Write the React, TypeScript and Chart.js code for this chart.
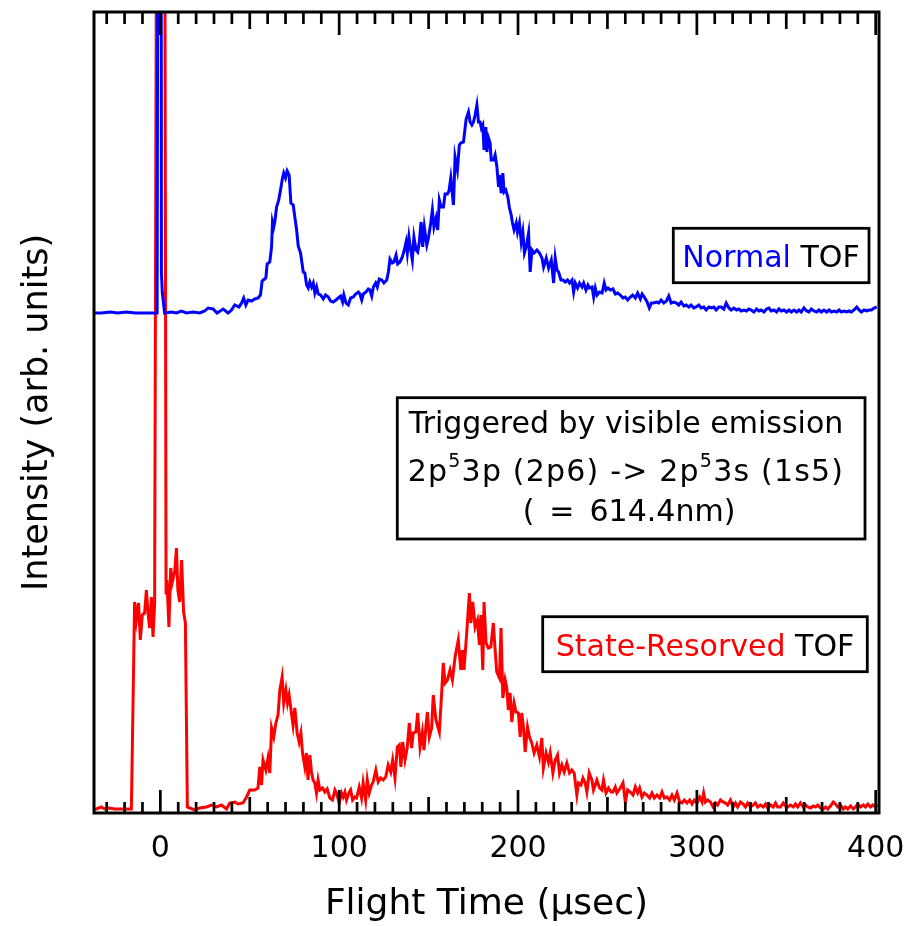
import { useEffect, useRef } from "react";
import { Chart, registerables } from "chart.js";

Chart.register(...registerables);

const FONT = '"DejaVu Sans"';

// Flight time (µs) vs intensity (arb. units)
const normalTOF: [number, number][] = [
  [-37,500],[-33,500],[-28,501],[-24,500],[-19,501],[-14,500],[-9,500],[-5,500],[-1.8,500],[-1.0,1400],[0.3,1400],[0.6,540],[1.1,520],[2.4,500],[6.2,501],[9,500],[11.8,502],[14.6,500],[18.3,501],[22,500],[24.8,502],[26.7,505],[29.5,504],[31.7,500],[35.1,504],[37.9,500],[39.8,503],[41.6,508],[44,506],[45.4,510],[46.6,515],[47.8,508],[49.1,513],[51,512],[52.8,514],[54.7,515],[56,518],[56.9,532],[59,535],[59.7,549],[61.2,551],[62.2,566],[62.7,591],[63.4,586],[64,591],[65,606],[66.2,613],[67.2,623],[68.3,635],[69,640],[70,635],[70.9,642],[72,638],[73,610],[74.3,608],[75.2,596],[76.2,583],[77.1,567],[78.4,560],[79.9,541],[80.8,540],[81.8,528],[82.7,525],[83.6,531],[84.6,526],[85.5,530],[86.4,520],[87.4,526],[88.3,519],[89.6,518],[91.1,514],[92.4,518],[93.9,516],[95.2,512],[96.7,511],[98.2,513],[99.5,515],[100.8,517],[101.9,511],[102.6,518],[103.8,510],[105.1,508],[106.4,515],[107.9,516],[109.2,519],[110.7,521],[111.6,519],[112.6,513],[113.5,519],[115,521],[116.3,524],[117.2,523],[118.2,517],[119.1,526],[120.4,530],[121.3,526],[122.4,534],[123.8,533],[125,530],[126.6,533],[127.5,541],[128.4,554],[129.7,550],[130.6,551],[131.8,558],[132.7,549],[134,551],[135.3,556],[136.4,563],[137.4,571],[138.1,560],[139,576],[140,563],[140.9,553],[141.8,576],[143,563],[143.9,561],[144.8,571],[145.8,591],[146.7,566],[147.6,586],[149,568],[149.9,575],[151.2,590],[152.1,603],[153,586],[154.2,595],[155.1,583],[156,613],[157,606],[158.3,606],[159.2,619],[160.5,619],[161.4,622],[162.4,635],[163.9,608],[164.8,656],[166.1,643],[167.2,668],[168,670],[169.5,671],[171,694],[172.3,701],[173.2,691],[174.2,688],[175.1,691],[176,698],[177,708],[177.9,691],[178.8,691],[179.5,685],[180.3,688],[181,663],[182,686],[182.6,661],[183.5,675],[184.4,670],[185,653],[186.3,653],[187.2,658],[188.2,646],[189.1,626],[189.6,638],[190.6,620],[191.5,640],[192.2,621],[193.2,623],[194.3,616],[195.2,605],[196.2,598],[196.9,590],[197.8,583],[199,590],[199.7,581],[200.8,590],[201.8,571],[202.7,581],[203.6,560],[204.6,566],[205.9,580],[206.8,541],[207.8,563],[209,560],[210.6,563],[212,560],[213.4,555],[214.3,546],[215.8,555],[217.1,545],[218.6,553],[219.9,530],[220.8,555],[221.8,543],[222.7,541],[224,533],[225.1,533],[226.4,531],[227.7,533],[228.8,530],[230.2,533],[231.1,521],[232,530],[233.3,525],[234.4,530],[235.8,526],[236.7,530],[238,523],[239.1,528],[240,525],[241.4,526],[242.3,516],[243.2,525],[244.2,518],[245.6,521],[247,520],[248.2,530],[249.2,523],[250.3,525],[251.6,523],[253.1,524],[254.4,519],[255.7,520],[257.2,518],[258.7,515],[260,516],[261.3,513],[262.8,516],[264.1,518],[265.6,515],[266.9,520],[268.4,514],[269.4,519],[270.6,516],[272.2,511],[273.4,505],[274.6,510],[275.9,510],[277.4,511],[278.7,510],[280,513],[281.5,510],[283,512],[284.3,517],[285.6,510],[287.1,511],[288.6,510],[289.9,508],[291.2,511],[292.7,507],[294,508],[295.5,506],[296.8,508],[298.3,505],[299.6,506],[301.1,508],[302.4,505],[303.9,506],[305.2,503],[306.7,506],[308,505],[309.5,506],[310.8,503],[312.3,506],[313.6,506],[315.1,504],[316.4,510],[317.9,505],[319.2,503],[320.7,505],[322.2,503],[323.5,504],[324.8,502],[326.3,503],[327.8,502],[329.1,504],[330.4,503],[331.9,501],[333.4,504],[334.7,502],[336,503],[337.5,501],[339,504],[340.3,505],[341.6,502],[343.1,503],[344.6,501],[345.9,504],[347.2,502],[348.7,503],[350.2,501],[351.5,503],[352.8,501],[354.3,503],[355.8,501],[357.1,503],[358.4,501],[359.9,505],[361.4,502],[362.7,501],[364,504],[365.5,502],[367,501],[368.3,503],[369.6,501],[371.1,503],[372.6,501],[373.9,503],[375.2,501],[376.7,502],[378.2,501],[379.5,503],[380.8,501],[382.3,502],[383.8,501],[385.1,502],[386.4,501],[387.9,503],[389.4,506],[390.7,503],[392,501],[393.5,503],[395,502],[396.3,503],[397.6,503],[399.1,505],[400.6,506]
];

const resolvedTOF: [number, number][] = [
  [-37,4],[-35.8,4],[-33,6],[-31.2,4],[-28.4,5],[-25.6,4],[-20,4],[-16.2,4],[-14.4,211],[-13.4,193],[-12.2,210],[-11.2,173],[-10.1,198],[-8.8,200],[-7.8,223],[-6.9,200],[-6,185],[-5,216],[-4.1,176],[-3.2,210],[-2.0,1000],[2.4,1000],[3.2,220],[3.7,233],[4.8,186],[5.8,245],[6.7,231],[8,241],[9,265],[9.8,223],[10.8,211],[11.9,253],[13,201],[14,190],[15.1,6],[16.4,5],[19.2,3],[22,5],[25.8,6],[28.6,8],[31.4,6],[34.2,8],[37,4],[38.8,10],[41.6,11],[43.4,9],[46.2,10],[48.2,16],[50,23],[52.8,23],[54.6,25],[55.6,46],[56.6,28],[57.4,53],[59,43],[60.2,55],[61.2,40],[62.2,85],[63.4,76],[64.6,90],[65.8,98],[66.8,123],[68.1,136],[69,110],[70.2,123],[71.1,110],[72,118],[73.3,100],[74.2,88],[75.2,105],[76.5,80],[77.6,71],[78.6,80],[79.5,60],[80.8,46],[81.7,60],[82.6,33],[83.6,58],[84.5,41],[85.4,33],[86.4,30],[87.3,20],[88.2,33],[89.2,23],[90.7,25],[92,21],[93.3,24],[94.8,15],[96.3,13],[97.6,23],[98.5,20],[100,10],[101.3,20],[102.2,16],[103.2,21],[104.1,13],[105.4,20],[106.4,23],[107.5,13],[108.8,16],[109.7,15],[111.2,26],[112.5,15],[113.4,30],[114.8,13],[115.7,33],[116.8,20],[118.1,28],[119,31],[120.5,43],[121.8,31],[123.2,35],[124.6,33],[126,36],[127.4,48],[128.8,41],[129.9,53],[131.2,35],[132.5,66],[133.6,68],[134.5,46],[135.5,71],[136.8,53],[138.1,66],[139.2,90],[140.5,65],[141.4,80],[142.9,81],[143.9,100],[145.2,66],[146.5,81],[147.4,63],[148.5,86],[149.3,101],[150.4,76],[151.7,85],[152.6,118],[154.1,93],[156,81],[157.3,120],[158.2,150],[159.2,130],[160.5,133],[162,143],[163.3,133],[164.8,156],[166.6,173],[168,143],[168.9,163],[169.8,143],[171.3,180],[172.8,220],[173.6,190],[174.7,211],[176,186],[177.3,193],[178.4,168],[179.2,198],[180.3,143],[181,211],[182.1,170],[183.4,165],[184.8,166],[186.2,190],[187.2,163],[188.1,141],[189.6,135],[190.5,185],[191.5,115],[192.8,133],[193.7,125],[194.6,103],[195.6,120],[196.5,91],[197.8,110],[198.9,101],[200.2,100],[201.2,76],[202.1,100],[203,86],[204,61],[205.3,86],[206.4,76],[207.7,70],[209,60],[210.5,68],[212,56],[213.3,75],[214.2,45],[215.7,60],[217,51],[218,60],[219.5,40],[220.8,53],[222.1,58],[223.2,40],[224.5,48],[225.8,41],[227.3,50],[228.8,40],[230.1,43],[231.4,40],[232.9,18],[233.8,30],[235.2,28],[236.3,35],[237.6,30],[238.5,21],[239.8,40],[241.3,33],[242.2,23],[243.2,28],[244.1,33],[245.6,25],[246.9,23],[247.8,33],[249.2,20],[250.6,25],[252,21],[253.1,21],[254.4,26],[255.3,20],[257.2,25],[258.7,30],[260,11],[261.3,23],[262.8,21],[264.3,18],[265.6,26],[266.9,20],[268,25],[269.3,16],[270.6,20],[272.1,18],[273.6,15],[274.9,20],[276.2,15],[277.7,18],[279.2,15],[280.5,21],[281.8,15],[283.3,16],[284.8,13],[286.1,18],[287.4,13],[288.9,20],[290.4,11],[291.7,10],[293,13],[294.5,10],[296,13],[297.3,9],[298.6,13],[300.1,10],[301.6,16],[302.9,11],[303.8,20],[304.8,11],[306,13],[307.6,11],[309.1,6],[310.4,10],[311.6,8],[313.2,13],[314.7,11],[316,10],[317.2,8],[318.8,13],[320.3,6],[321.6,10],[322.8,6],[324.4,11],[325.9,9],[327.2,6],[328.4,10],[330,6],[331.5,8],[332.7,10],[334,6],[335.6,8],[337.1,6],[338.4,9],[339.6,5],[341.2,8],[342.7,6],[344,10],[345.2,6],[346.7,6],[348.3,10],[349.6,7],[350.8,6],[352.3,8],[353.9,6],[355.1,9],[356.4,6],[357.9,10],[359.5,6],[360.8,8],[362,6],[363.6,5],[365.1,7],[366.3,6],[367.6,8],[369.1,5],[370.7,4],[372,6],[373.2,4],[374.7,7],[376.3,11],[377.5,9],[378.8,6],[380.3,8],[381.8,4],[383.1,6],[384.4,4],[385.9,7],[387.5,4],[388.7,6],[390,9],[391.5,6],[393,8],[394.3,6],[395.6,9],[397.1,6],[398.4,8],[399.9,6],[401.1,8]
];

const xLabelValues = [0, 100, 200, 300, 400];
const xRange = [-37.1, 401.85];
const yRange = [0, 801];

type Seg = { text: string; color?: string; size?: number; dy?: number };

function drawRich(ctx: CanvasRenderingContext2D, segs: Seg[], cx: number, baseline: number, spacing = 0) {
  const c = ctx as any;
  c.letterSpacing = `${spacing}px`;
  let w = 0;
  for (const s of segs) {
    ctx.font = `${s.size ?? 30}px ${FONT}`;
    w += ctx.measureText(s.text).width;
  }
  let x = cx - w / 2;
  ctx.textAlign = "left";
  ctx.textBaseline = "alphabetic";
  for (const s of segs) {
    ctx.font = `${s.size ?? 30}px ${FONT}`;
    ctx.fillStyle = s.color ?? "#000";
    ctx.fillText(s.text, x, baseline + (s.dy ?? 0));
    x += ctx.measureText(s.text).width;
  }
  c.letterSpacing = "0px";
}

function box(ctx: CanvasRenderingContext2D, x1: number, y1: number, x2: number, y2: number) {
  ctx.lineWidth = 2.8;
  ctx.strokeStyle = "#000";
  ctx.strokeRect(x1, y1, x2 - x1, y2 - y1);
}

const framePlugin = {
  id: "frameTicks",
  afterDraw(chart: any) {
    const { ctx, chartArea: a, scales } = chart;
    const xs = scales.x;
    ctx.save();
    ctx.strokeStyle = "#000";
    ctx.lineWidth = 2.7;
    ctx.lineCap = "butt";
    for (let v = -30; v <= 400; v += 10) {
      const px = xs.getPixelForValue(v);
      const major = v % 100 === 0;
      const mid = !major && v % 50 === 0;
      const lenTop = major ? 23 : mid ? 17 : 12;
      const lenBot = major ? 23 : mid ? 16 : 11;
      ctx.beginPath();
      ctx.moveTo(px, a.top);
      ctx.lineTo(px, a.top + lenTop);
      ctx.moveTo(px, a.bottom);
      ctx.lineTo(px, a.bottom - lenBot);
      ctx.stroke();
    }
    ctx.lineWidth = 3;
    ctx.strokeRect(a.left, a.top, a.right - a.left, a.bottom - a.top);

    // annotation boxes
    box(ctx, 673.3, 228.3, 869, 282.7);
    drawRich(ctx, [{ text: "Normal", color: "#0000ff" }, { text: " TOF" }], 771, 266.5);

    box(ctx, 397.3, 397.7, 865, 539);
    drawRich(ctx, [{ text: "Triggered by visible emission" }], 626, 432.5);
    drawRich(
      ctx,
      [
        { text: "2p" },
        { text: "5", size: 19, dy: -14 },
        { text: "3p (2p6) -> 2p" },
        { text: "5", size: 19, dy: -14 },
        { text: "3s (1s5)" },
      ],
      626,
      480.5,
      1.2
    );
    drawRich(ctx, [{ text: "(\u2002=\u2002614.4nm)" }], 629, 520.5);

    box(ctx, 542.7, 616.7, 867.3, 671.7);
    drawRich(ctx, [{ text: "State-Resorved", color: "#ff0000" }, { text: " TOF" }], 705, 656);
    ctx.restore();
  },
};

export default function App() {
  const ref = useRef<HTMLCanvasElement | null>(null);
  useEffect(() => {
    if (!ref.current) return;
    const chart = new Chart(ref.current, {
      type: "line",
      data: {
        datasets: [
          {
            label: "Normal TOF",
            data: normalTOF.map(([x, y]) => ({ x, y })),
            borderColor: "#0000ff",
            borderWidth: 3,
            pointRadius: 0,
            tension: 0,
            fill: false,
          },
          {
            label: "State-Resorved TOF",
            data: resolvedTOF.map(([x, y]) => ({ x, y })),
            borderColor: "#ff0000",
            borderWidth: 3,
            pointRadius: 0,
            tension: 0,
            fill: false,
          },
        ],
      },
      options: {
        animation: false,
        responsive: false,
        devicePixelRatio: 1,
        layout: { padding: { top: 12, right: 32, left: 0, bottom: 0 } },
        plugins: { legend: { display: false }, tooltip: { enabled: false } },
        scales: {
          x: {
            type: "linear",
            position: "bottom",
            min: xRange[0],
            max: xRange[1],
            afterFit: (s: any) => {
              s.height = 113;
              s.paddingLeft = 0;
              s.paddingRight = 0;
            },
            afterBuildTicks: (s: any) => {
              s.ticks = xLabelValues.map((v) => ({ value: v }));
            },
            grid: { display: false, drawTicks: false },
            border: { display: false },
            ticks: {
              includeBounds: false,
              autoSkip: false,
              maxRotation: 0,
              padding: 18,
              color: "#000",
              font: { family: FONT, size: 30 },
            },
            title: {
              display: true,
              text: "Flight Time (µsec)",
              color: "#000",
              font: { family: FONT, size: 36 },
              padding: { top: 0, bottom: 0 },
            },
          },
          y: {
            type: "linear",
            position: "left",
            min: yRange[0],
            max: yRange[1],
            afterFit: (s: any) => {
              s.width = 94;
              s.paddingTop = 0;
              s.paddingBottom = 0;
            },
            grid: { display: false, drawTicks: false },
            border: { display: false },
            ticks: { display: false },
            title: {
              display: true,
              text: "Intensity (arb. units)",
              color: "#000",
              font: { family: FONT, size: 35 },
              padding: { top: 17, bottom: 0 },
            },
          },
        },
      },
      plugins: [framePlugin],
    });
    return () => chart.destroy();
  }, []);
  return (
    <div style={{ position: "absolute", left: 0, top: 0, width: 911, height: 926, background: "#fff" }}>
      <canvas ref={ref} width={911} height={926} style={{ width: 911, height: 926, display: "block" }} />
    </div>
  );
}
